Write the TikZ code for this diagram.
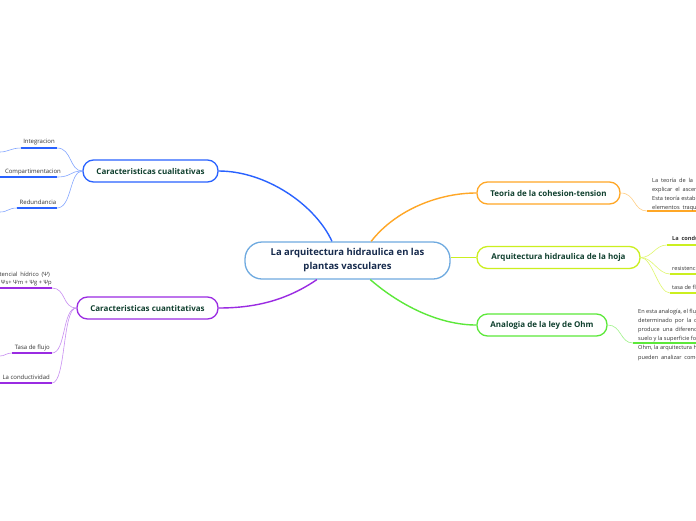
\documentclass[tikz,border=0pt]{standalone}
\usepackage{fontspec}
\setmainfont{Open Sans}
\definecolor{cblue}{HTML}{2962FF}
\definecolor{cbluel}{HTML}{86A8FF}
\definecolor{cpur}{HTML}{9A2BE2}
\definecolor{cpurl}{HTML}{C88EF2}
\definecolor{corg}{HTML}{FFA726}
\definecolor{corgl}{HTML}{FFCF85}
\definecolor{cyel}{HTML}{CBEF1F}
\definecolor{cyell}{HTML}{E0F76E}
\definecolor{cgrn}{HTML}{5CE83A}
\definecolor{cgrnl}{HTML}{A0F38A}
\definecolor{ccen}{HTML}{6FAAE0}
\definecolor{ctxt}{HTML}{10402F}
\definecolor{ctxtc}{HTML}{172B4D}
\definecolor{cgray}{HTML}{333333}
\newcommand\wide[1]{{\spaceskip=2.8pt\relax #1}}
\begin{document}
\begin{tikzpicture}[x=1pt,y=-1pt,
  mainbox/.style={draw,line width=1.3pt,rounded corners=10.5pt,fill=white,text=ctxt,
    font=\fontsize{8}{9}\selectfont\bfseries,inner sep=0pt,minimum height=22pt},
  cenbox/.style={draw=ccen,line width=1.3pt,rounded corners=17pt,fill=white,text=ctxtc,
    font=\fontsize{9.5}{14}\selectfont\bfseries,inner sep=0pt,align=center,
    minimum width=205pt,minimum height=37pt},
  lbl/.style={text=cgray,font=\fontsize{6}{8}\selectfont,inner sep=0pt},
  para/.style={text=cgray,font=\fontsize{5.6}{9.2}\selectfont,inner sep=0pt,align=left},
  branch/.style={line width=1.4pt},
  sub/.style={line width=0.6pt},
  ul/.style={line width=1.6pt}
]
\useasboundingbox (0,0) rectangle (696,520);
\clip (0,0) rectangle (696,520);
\fill[white] (0,0) rectangle (696,520);

% central and main nodes
\node[cenbox] (cen) at (347.5,260.5) {La arquitectura hidraulica en las\\plantas vasculares};
\node[mainbox,draw=cblue,minimum width=135pt] (cual) at (150.5,171) {Caracteristicas cualitativas};
\node[mainbox,draw=cpur,minimum width=141pt] (cuan) at (147.5,308) {Caracteristicas cuantitativas};
\node[mainbox,draw=corg,minimum width=143pt] (teo) at (548.5,193) {Teoria de la cohesion-tension};
\node[mainbox,draw=cyel,minimum width=163pt] (hoja) at (558.5,257.5) {Arquitectura hidraulica de la hoja};
\node[mainbox,draw=cgrn,minimum width=130pt] (ohm) at (542,325) {Analogia de la ley de Ohm};

% main branches
\draw[branch,cblue] (cen.129) .. controls +(-17,-37) and +(47,0) .. (cual.east);
\draw[branch,cpur] (cen.212) .. controls +(-28,19) and +(40,0) .. (cuan.east);
\draw[branch,corg] (cen.39) .. controls +(25,-32) and +(-37,0) .. (teo.west);
\draw[branch,cyel] (hoja.west) -- (hoja.west -| cen.east);
\draw[branch,cgrn] (cen.320) .. controls +(30,26) and +(-37,0) .. (ohm.west);

% ---- cualitativas children
\coordinate (i1) at (57,148); \coordinate (i2) at (21,148); \coordinate (i3) at (0,152);
\coordinate (c1) at (57,177); \coordinate (c2) at (-2,177);
\coordinate (r1) at (57,208); \coordinate (r2) at (17,208); \coordinate (r3) at (0,212);
\node[lbl,anchor=base] (int) at (39,143) {Integracion};
\node[lbl,anchor=base] (comp) at (33,173) {Compartimentacion};
\node[lbl,anchor=base] (red) at (38,204) {Redundancia};
\draw[sub,cbluel] (cual.west) .. controls +(-13,0) and +(15,0) .. (i1);
\draw[sub,cbluel] (cual.west) .. controls +(-13,0) and +(15,0) .. (c1);
\draw[sub,cbluel] (cual.west) .. controls +(-13,0) and +(15,0) .. (r1);
\draw[ul,cblue] (i1) -- (i2);
\draw[ul,cblue] (c1) -- (c2);
\draw[ul,cblue] (r1) -- (r2);
\draw[sub,cbluel] (i2) .. controls +(-10,0) and +(8,0) .. (i3);
\draw[sub,cbluel] (r2) .. controls +(-9,0) and +(8,0) .. (r3);

% ---- cuantitativas children
\coordinate (p1) at (52,288); \coordinate (p2) at (-2,288);
\coordinate (f1) at (52,353); \coordinate (f2) at (12,353); \coordinate (f3) at (0,356);
\coordinate (k1) at (52,383); \coordinate (k2) at (-2,383);
\node[lbl,anchor=base east,font=\fontsize{5.8}{8}\selectfont] (pot) at (50,276) {\wide{Potencial hídrico (Ψ)}};
\node[lbl,anchor=base east,font=\fontsize{5.8}{8}\selectfont] (pot2) at (52,284) {Ψ= Ψs+ Ψm + Ψg + Ψp};
\node[lbl,anchor=base east] (tasa) at (50,349) {Tasa de flujo};
\node[lbl,anchor=base east] (cond) at (50,379) {La conductividad};
\draw[sub,cpurl] (cuan.west) .. controls +(-14,0) and +(14,0) .. (p1);
\draw[sub,cpurl] (cuan.west) .. controls +(-14,0) and +(14,0) .. (f1);
\draw[sub,cpurl] (cuan.west) .. controls +(-14,0) and +(14,0) .. (k1);
\draw[ul,cpur] (p1) -- (p2);
\draw[ul,cpur] (f1) -- (f2);
\draw[ul,cpur] (k1) -- (k2);
\draw[sub,cpurl] (f2) .. controls +(-6,0) and +(5,0) .. (f3);

% ---- teoria child
\coordinate (t1) at (647,211); \coordinate (t2) at (700,211);
\draw[sub,corgl] (teo.east) .. controls +(15,0) and +(-14,0) .. (t1);
\draw[ul,corg] (t1) -- (t2);
\node[para,anchor=base west] (teotxt) at (652,209.6) {\wide{La teoría de la cohesión-tensión es la más aceptada}\\
\wide{explicar el ascenso del agua en las plantas}\\
Esta teoría establece que el agua asciende\\
\wide{elementos traqueales del xilema}};

% ---- hoja children
\coordinate (h1) at (667,245); \coordinate (h1b) at (700,245);
\coordinate (h2) at (670,274); \coordinate (h2b) at (700,274);
\coordinate (h3) at (670,293); \coordinate (h3b) at (700,293);
\draw[sub,cyell] (hoja.east) .. controls +(12,0) and +(-12,0) .. (h1);
\draw[sub,cyell] (hoja.east) .. controls +(12,0) and +(-12,0) .. (h2);
\draw[sub,cyell] (hoja.east) .. controls +(12,0) and +(-12,0) .. (h3);
\draw[ul,cyel] (h1) -- (h1b);
\draw[ul,cyel] (h2) -- (h2b);
\draw[ul,cyel] (h3) -- (h3b);
\node[para,anchor=base west,font=\fontsize{5.6}{9}\selectfont\bfseries] (hc) at (672,240) {\wide{La conductividad hidráulica}};
\node[para,anchor=base west] (hr) at (672,270) {resistencia hidráulica};
\node[para,anchor=base west] (ht) at (672,289) {tasa de flujo};

% ---- ohm child
\coordinate (o1) at (633,343); \coordinate (o2) at (700,343);
\draw[sub,cgrnl] (ohm.east) .. controls +(14,0) and +(-13,0) .. (o1);
\draw[ul,cgrn] (o1) -- (o2);
\node[para,anchor=base west] (ohmtxt) at (638,359) {En esta analogía, el flujo de agua\\
\wide{determinado por la conductancia}\\
\wide{produce una diferencia de potencial}\\
suelo y la superficie foliar\\
Ohm, la arquitectura hidráulica\\
\wide{pueden analizar como circuitos}};
\end{tikzpicture}
\end{document}
